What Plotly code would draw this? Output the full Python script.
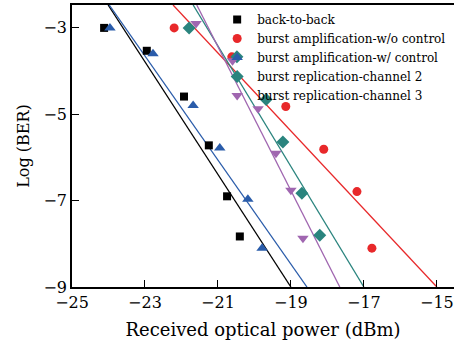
import plotly.graph_objects as go

# ---- data ----
b2b_x = [-24.12, -22.95, -21.93, -21.25, -20.75, -20.40]
b2b_y = [-3.0, -3.53, -4.59, -5.72, -6.90, -7.83]
b2b_fit_x = [-24.01, -19.0]
b2b_fit_y = [-2.47, -9.0]

wo_x = [-22.20, -20.62, -19.14, -18.10, -17.19, -16.78]
wo_y = [-3.0, -3.67, -4.82, -5.81, -6.79, -8.10]
wo_fit_x = [-22.23, -15.0]
wo_fit_y = [-2.47, -9.0]

w_x = [-23.96, -22.78, -21.68, -20.95, -20.18, -19.79]
w_y = [-3.0, -3.60, -4.80, -5.78, -6.97, -8.10]
w_fit_x = [-23.98, -18.56]
w_fit_y = [-2.47, -9.0]

ch2_x = [-21.79, -20.48, -19.68, -19.22, -18.70, -18.21]
ch2_y = [-3.0, -3.67, -4.66, -5.64, -6.83, -7.80]
ch2_fit_x = [-21.68, -17.0]
ch2_fit_y = [-2.47, -9.0]

ch3_x = [-21.60, -20.60, -19.90, -19.41, -19.00, -18.67]
ch3_y = [-2.90, -3.76, -4.87, -5.90, -6.76, -7.87]
ch3_fit_x = [-21.58, -17.66]
ch3_fit_y = [-2.47, -9.0]

names = ["back-to-back", "burst amplification-w/o control", "burst amplification-w/ control",
         "burst replication-channel 2", "burst replication-channel 3"]
x_ticks = [-25, -23, -21, -19, -17, -15]
y_ticks = [-3, -5, -7, -9]

series = [
    (b2b_x, b2b_y, b2b_fit_x, b2b_fit_y, "#000000", "square", 8),
    (wo_x, wo_y, wo_fit_x, wo_fit_y, "#e8282a", "circle", 9),
    (w_x, w_y, w_fit_x, w_fit_y, "#2a5caa", "triangle-up", 10),
    (ch2_x, ch2_y, ch2_fit_x, ch2_fit_y, "#2a847e", "diamond", 10),
    (ch3_x, ch3_y, ch3_fit_x, ch3_fit_y, "#a066b0", "triangle-down", 10),
]

fig = go.Figure()
for (sx, sy, fx, fy, col, sym, sz), nm in zip(series, names):
    fig.add_trace(go.Scatter(x=fx, y=fy, mode="lines", line=dict(color=col, width=1.3),
                             showlegend=False, hoverinfo="skip"))
for (sx, sy, fx, fy, col, sym, sz), nm in zip(series, names):
    fig.add_trace(go.Scatter(x=sx, y=sy, mode="markers", name=nm,
                             marker=dict(symbol=sym, size=sz, color=col, line=dict(width=0))))

font = "DejaVu Serif"
fig.update_layout(
    width=454, height=341,
    margin=dict(l=72, r=0, t=5, b=54, autoexpand=False),
    paper_bgcolor="white", plot_bgcolor="white",
    font=dict(family=font, size=16, color="black"),
    legend=dict(x=0.38, y=1.0, xanchor="left", yanchor="top",
                font=dict(family=font, size=12), bgcolor="rgba(0,0,0,0)",
                tracegroupgap=0, itemwidth=30),
    xaxis=dict(range=[-25, -14.53], tickvals=x_ticks, ticktext=[f"\u2212{abs(v)}" for v in x_ticks],
               ticks="inside", ticklen=7, tickcolor="black", showline=True, linecolor="black",
               linewidth=1.5, mirror=True, showgrid=False, zeroline=False,
               title=dict(text="Received optical power (dBm)", standoff=12, font=dict(size=18))),
    yaxis=dict(range=[-9, -2.47], tickvals=y_ticks, ticktext=[f"\u2212{abs(v)}" for v in y_ticks],
               ticks="inside", ticklen=7, tickcolor="black", showline=True, linecolor="black",
               linewidth=1.5, showgrid=False, zeroline=False,
               title=dict(text="Log (BER)", standoff=10, font=dict(size=16))),
)
fig.write_html("out.html", config={"displayModeBar": False},
               post_script="document.body.style.margin='0';")
